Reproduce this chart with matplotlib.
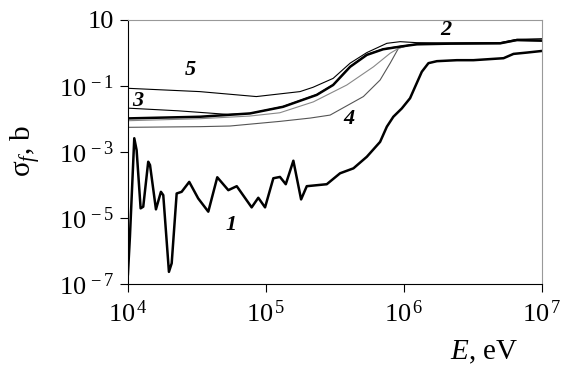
import numpy as np
import matplotlib
matplotlib.use('Agg')
import matplotlib.pyplot as plt

plt.rcParams['font.family'] = ['Liberation Serif', 'DejaVu Serif']
plt.rcParams['mathtext.fontset'] = 'custom'
plt.rcParams['mathtext.rm'] = 'Liberation Serif'
plt.rcParams['mathtext.it'] = 'Liberation Serif:italic'
plt.rcParams['mathtext.bf'] = 'Liberation Serif:bold'

# values as log10(E, eV) and log10(sigma_f, b)
lgE1 = [4.0, 4.0145, 4.046, 4.063, 4.092, 4.111, 4.147, 4.16, 4.203, 4.239, 4.256,
        4.297, 4.317, 4.353, 4.389, 4.444, 4.509, 4.582, 4.647, 4.727, 4.788, 4.896,
        4.944, 4.993, 5.053, 5.101, 5.143, 5.198, 5.254, 5.295, 5.44, 5.536, 5.633,
        5.73, 5.826, 5.875, 5.922, 5.983, 6.043, 6.08, 6.128, 6.176, 6.237, 6.382,
        6.502, 6.72, 6.792, 6.889, 7.0]
lgS1 = [-6.7, -5.57, -2.59, -2.95, -4.71, -4.66, -3.30, -3.40, -4.74, -4.21, -4.31,
        -6.63, -6.37, -4.26, -4.21, -3.91, -4.41, -4.81, -3.77, -4.16, -4.04, -4.68,
        -4.39, -4.68, -3.80, -3.76, -3.98, -3.27, -4.44, -4.04, -3.98, -3.65, -3.50,
        -3.15, -2.70, -2.24, -1.94, -1.69, -1.38, -1.03, -0.58, -0.32, -0.26, -0.23,
        -0.23, -0.17, -0.04, 0.0, 0.05]

lgE2 = [4.0, 4.522, 4.884, 5.123, 5.367, 5.486, 5.609, 5.73, 5.848, 5.971, 6.092,
        6.333, 6.696, 6.817, 7.0]
lgS2 = [-1.99, -1.94, -1.84, -1.64, -1.28, -0.98, -0.43, -0.07, 0.10, 0.18, 0.25,
        0.27, 0.28, 0.38, 0.36]

lgE3 = [4.0, 4.362, 4.725, 4.884, 5.123, 5.367, 5.486, 5.609, 5.73, 5.848, 5.971,
        6.092, 6.333, 6.696, 6.817, 7.0]
lgS3 = [-1.68, -1.76, -1.87, -1.84, -1.63, -1.27, -0.97, -0.42, -0.06, 0.11, 0.19,
        0.26, 0.28, 0.29, 0.39, 0.37]

lgE4 = [4.0, 4.522, 4.74, 5.101, 5.32, 5.464, 5.705, 5.826, 5.899, 5.959, 6.05,
        6.333, 6.696, 6.817, 7.0]
lgS4 = [-2.26, -2.24, -2.22, -2.08, -1.98, -1.89, -1.33, -0.83, -0.32, 0.13, 0.24,
        0.27, 0.28, 0.37, 0.36]

lgE5 = [4.0, 4.52, 4.93, 5.246, 5.34, 5.486, 5.609, 5.73, 5.875, 5.971, 6.09,
        6.333, 6.696, 6.817, 7.0]
lgS5 = [-1.08, -1.18, -1.33, -1.18, -1.05, -0.78, -0.32, 0.0, 0.28, 0.33, 0.30,
        0.29, 0.30, 0.40, 0.42]

# unlabelled grey curve lying just under curve 2
lgE6 = [4.0, 4.52, 4.88, 5.10, 5.343, 5.585, 5.778, 5.899, 5.96, 6.05, 6.333,
        6.696, 6.817, 7.0]
lgS6 = [-2.06, -2.0, -1.92, -1.82, -1.49, -0.98, -0.43, -0.02, 0.13, 0.24, 0.26,
        0.27, 0.36, 0.35]

fig = plt.figure(figsize=(5.66, 3.68), dpi=100)
ax = fig.add_axes([0.226, 0.228, 0.732, 0.719])

def pw(a):
    return np.power(10.0, a)

ax.plot(pw(lgE5), pw(lgS5), color='black', lw=0.8)
ax.plot(pw(lgE4), pw(lgS4), color='#555555', lw=0.8)
ax.plot(pw(lgE6), pw(lgS6), color='#888888', lw=0.8)
ax.plot(pw(lgE3), pw(lgS3), color='black', lw=0.8)
ax.plot(pw(lgE2), pw(lgS2), color='black', lw=1.8)
ax.plot(pw(lgE1), pw(lgS1), color='black', lw=1.8)

ax.set_xscale('log')
ax.set_yscale('log')
ax.set_xlim(1e4, 1e7)
ax.set_ylim(1e-7, 10)
ax.minorticks_off()

ax.set_xticks([1e4, 1e5, 1e6, 1e7])
ax.set_xticklabels([r'$\mathregular{10^{\,4}}$', r'$\mathregular{10^{\,5}}$',
                    r'$\mathregular{10^{\,6}}$', r'$\mathregular{10^{\,7}}$'])
ax.set_yticks([1e-7, 1e-5, 1e-3, 1e-1, 10])
ax.set_yticklabels([r'$\mathregular{10^{\,-7}}$', r'$\mathregular{10^{\,-5}}$',
                    r'$\mathregular{10^{\,-3}}$', r'$\mathregular{10^{\,-1}}$', '10'])
ax.tick_params(labelsize=19, length=6, width=0.8, direction='out', pad=4)

for s in ['top', 'right']:
    ax.spines[s].set_color('#999999')
    ax.spines[s].set_linewidth(0.8)
ax.tick_params(axis='x', pad=6)

fig.text(0.045, 0.59, r'σ$_{f}$, b', rotation=90, fontsize=21, ha='center', va='center')
fig.text(0.915, 0.043, r'$E$, eV', fontsize=21, ha='right', va='center')

lab = dict(fontsize=16, fontweight='bold', fontstyle='italic', ha='center', va='center')
ax.text(pw(4.45), pw(-0.54), '5', **lab)
ax.text(pw(4.07), pw(-1.45), '3', **lab)
ax.text(pw(5.6), pw(-2.0), '4', **lab)
ax.text(pw(6.3), pw(0.68), '2', **lab)
ax.text(pw(4.75), pw(-5.2), '1', **lab)

plt.savefig('out.png', dpi=100)
